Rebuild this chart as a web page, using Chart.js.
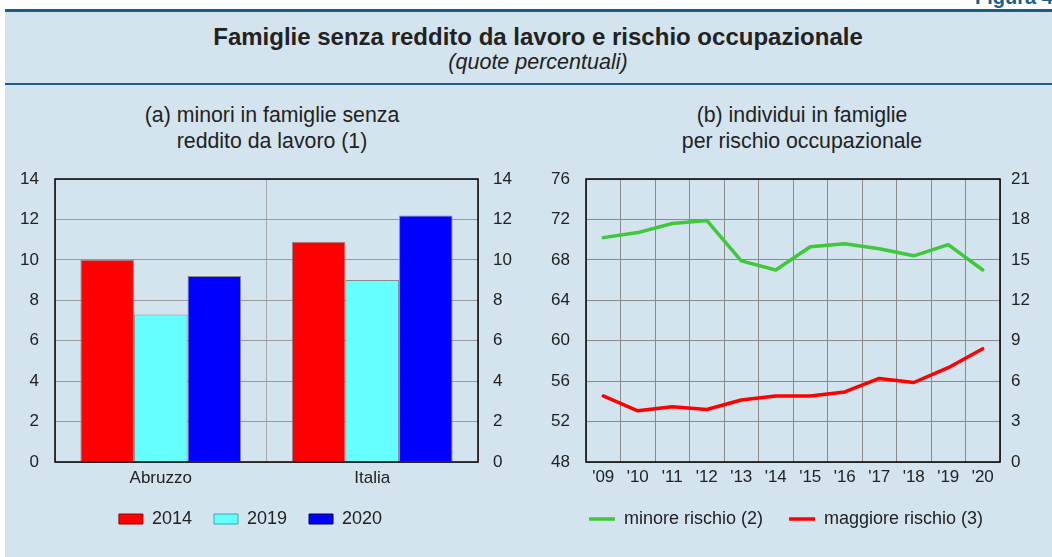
<!DOCTYPE html>
<html>
<head>
<meta charset="utf-8">
<script src="https://cdn.jsdelivr.net/npm/chart.js@4.4.1/dist/chart.umd.min.js"></script>
<style>
  body { margin: 0; width: 1052px; height: 557px; background: #fff; position: relative; overflow: hidden;
         font-family: "Liberation Sans", Arial, sans-serif; color: #222; }
  #fig { position: absolute; left: 975px; top: -14px; font-size: 20px; font-weight: bold; color: #1b5e86; white-space: nowrap; }
  #panel { position: absolute; left: 5px; top: 9px; width: 1047px; height: 548px; background: #d3e4ee; border-top: 3px solid #1b5e86; }
  #sep { position: absolute; left: 5px; top: 83px; width: 1047px; height: 2px; background: #1b5e86; }
  .title { position: absolute; left: 0; width: 1076px; text-align: center; }
  #t1 { top: 23px; font-size: 24px; font-weight: bold; }
  #t2 { top: 50px; font-size: 21.5px; font-style: italic; }
  .sub { position: absolute; text-align: center; font-size: 21.3px; line-height: 26px; width: 420px; }
  #subA { left: 62px; top: 102px; }
  #subB { left: 592px; top: 102px; }
  canvas { position: absolute; }
  #barChart { left: -19px; top: 165px; }
  #lineChart { left: 520px; top: 165px; }
</style>
</head>
<body>
<div id="panel"></div>
<div id="sep"></div>
<div id="fig">Figura 4</div>
<div class="title" id="t1">Famiglie senza reddito da lavoro e rischio occupazionale</div>
<div class="title" id="t2">(quote percentuali)</div>
<div class="sub" id="subA">(a) minori in famiglie senza<br>reddito da lavoro (1)</div>
<div class="sub" id="subB">(b) individui in famiglie<br>per rischio occupazionale</div>
<canvas id="barChart" width="539" height="380"></canvas>
<canvas id="lineChart" width="532" height="380"></canvas>
<script>
// panel (a)
const regions = ['Abruzzo', 'Italia'];
const share2014 = [10.0, 10.9];
const share2019 = [7.3, 9.0];
const share2020 = [9.2, 12.2];

// panel (b)
const years = ["'09", "'10", "'11", "'12", "'13", "'14", "'15", "'16", "'17", "'18", "'19", "'20"];
const minoreRischio = [70.2, 70.7, 71.6, 71.9, 67.9, 67.0, 69.3, 69.6, 69.1, 68.4, 69.5, 67.0];
const maggioreRischio = [4.9, 3.8, 4.1, 3.9, 4.6, 4.9, 4.9, 5.2, 6.2, 5.9, 7.0, 8.4];

const FONT = "'Liberation Sans', Arial, sans-serif";
const TXT = '#222';

// black frame round the plot area
const frame = {
  id: 'frame',
  afterDraw(chart) {
    const { ctx, chartArea: a } = chart;
    ctx.save();
    ctx.strokeStyle = '#000';
    ctx.lineWidth = 1.5;
    ctx.strokeRect(a.left, a.top, a.right - a.left, a.bottom - a.top);
    ctx.restore();
  }
};

// fixed axis sizes so both plot areas sit where the reference has them
function fixWidth(w) {
  return s => { s.width = w; s.paddingTop = 0; s.paddingBottom = 0; };
}
function fixHeight(h) { return s => { s.height = h; }; }

// --- Bar chart ---
const barBorders = ['#990000', '#3aa8a8', '#000066'];
new Chart(document.getElementById('barChart'), {
  type: 'bar',
  data: {
    labels: regions,
    datasets: [
      { label: '2014', data: share2014, backgroundColor: '#ff0000' },
      { label: '2019', data: share2019, backgroundColor: '#66ffff' },
      { label: '2020', data: share2020, backgroundColor: '#0000ff' }
    ].map(d => Object.assign(d, { borderColor: '#8a8a8a', borderWidth: 1, categoryPercentage: 0.76, barPercentage: 1 }))
  },
  options: {
    responsive: false,
    animation: false,
    layout: { padding: { top: 14, bottom: 7, left: 0, right: 0 } },
    plugins: {
      tooltip: { enabled: false },
      legend: {
        position: 'bottom',
        labels: {
          boxWidth: 24, boxHeight: 10, padding: 22, color: TXT,
          font: { family: FONT, size: 18 },
          generateLabels(chart) {
            return chart.data.datasets.map((d, i) => ({
              text: d.label, fillStyle: d.backgroundColor, strokeStyle: barBorders[i],
              lineWidth: 1, datasetIndex: i, fontColor: TXT
            }));
          }
        }
      }
    },
    scales: {
      x: {
        grid: { color: '#a8a8a8', drawTicks: false, offset: true },
        border: { display: false },
        ticks: { color: TXT, font: { family: FONT, size: 17 }, padding: 6 },
        afterFit: fixHeight(26)
      },
      y: {
        position: 'left', min: 0, max: 14,
        grid: { color: '#9a9a9a', drawTicks: false },
        border: { display: false },
        ticks: { stepSize: 2, color: TXT, font: { family: FONT, size: 17 }, padding: 16 },
        afterFit: fixWidth(74)
      },
      y1: {
        position: 'right', min: 0, max: 14,
        grid: { display: false, drawTicks: false },
        border: { display: false },
        ticks: { stepSize: 2, color: TXT, font: { family: FONT, size: 17 }, padding: 15 },
        afterFit: fixWidth(42)
      }
    }
  },
  plugins: [frame]
});

// --- Line chart ---
new Chart(document.getElementById('lineChart'), {
  type: 'line',
  data: {
    labels: years,
    datasets: [
      { label: 'minore rischio (2)', data: minoreRischio, borderColor: '#3ec83a', backgroundColor: '#3ec83a', yAxisID: 'y' },
      { label: 'maggiore rischio (3)', data: maggioreRischio, borderColor: '#ff0000', backgroundColor: '#ff0000', yAxisID: 'y1' }
    ].map(d => Object.assign(d, { borderWidth: 3.5, pointRadius: 0, tension: 0, borderJoinStyle: 'round', borderCapStyle: 'round' }))
  },
  options: {
    responsive: false,
    animation: false,
    layout: { padding: { top: 14, bottom: 7, left: 0, right: 0 } },
    plugins: {
      tooltip: { enabled: false },
      legend: {
        position: 'bottom',
        labels: {
          usePointStyle: true, pointStyle: 'line', pointStyleWidth: 26, padding: 26, color: TXT,
          font: { family: FONT, size: 18 }
        }
      }
    },
    scales: {
      x: {
        offset: true,
        grid: { color: '#8a8a8a', drawTicks: false, offset: true },
        border: { display: false },
        ticks: { color: TXT, font: { family: FONT, size: 17 }, padding: 5, maxRotation: 0, autoSkip: false },
        afterFit: fixHeight(22)
      },
      y: {
        position: 'left', min: 48, max: 76,
        grid: { color: '#8a8a8a', drawTicks: false },
        border: { display: false },
        ticks: { stepSize: 4, color: TXT, font: { family: FONT, size: 17 }, padding: 16 },
        afterFit: fixWidth(66)
      },
      y1: {
        position: 'right', min: 0, max: 21,
        grid: { display: false, drawTicks: false },
        border: { display: false },
        ticks: { stepSize: 3, color: TXT, font: { family: FONT, size: 17 }, padding: 11 },
        afterFit: fixWidth(52)
      }
    }
  },
  plugins: [frame]
});
</script>
</body>
</html>
